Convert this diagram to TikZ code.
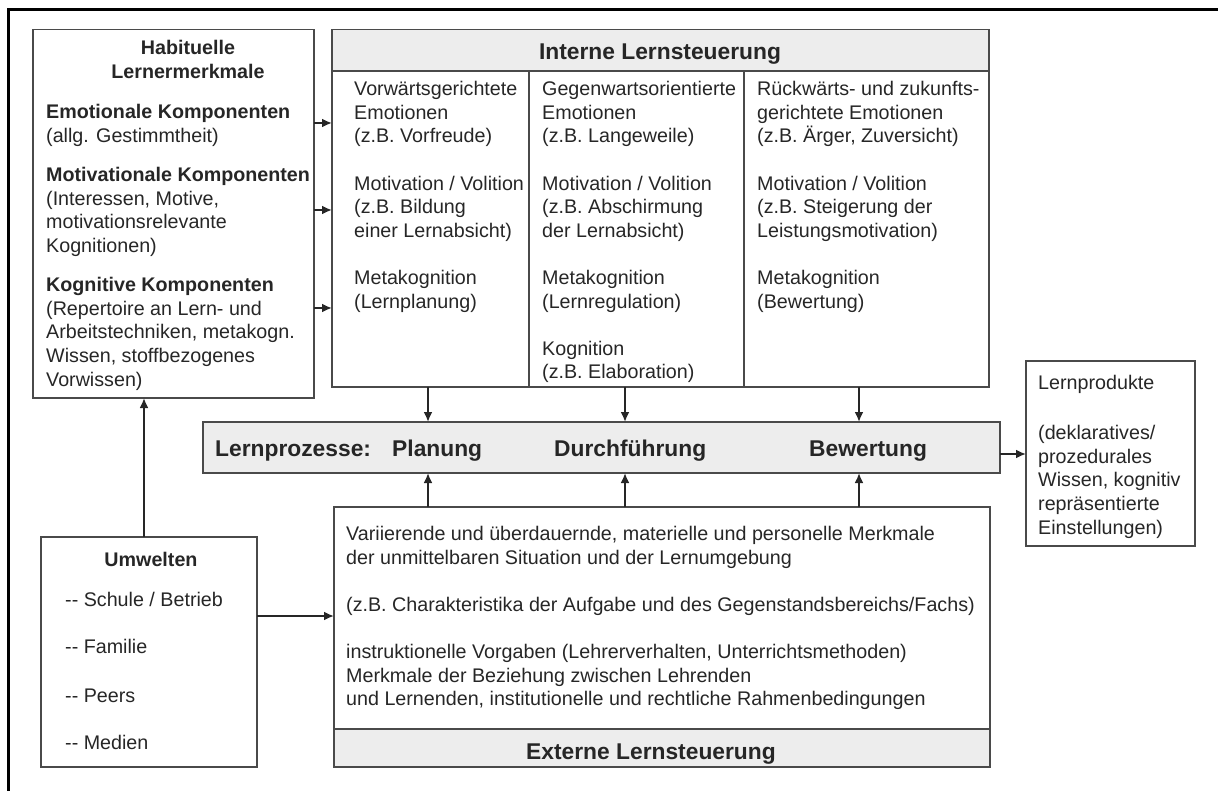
\documentclass[tikz,border=0pt]{standalone}
\usepackage{fontspec}
\setmainfont{Liberation Sans}
\usetikzlibrary{arrows.meta}
\definecolor{edge}{HTML}{4A4A4A}
\definecolor{band}{HTML}{EDEDED}
\definecolor{ink}{HTML}{262626}
\tikzset{
  box/.style={draw=edge, line width=1.3pt, inner sep=0pt, outer sep=0pt, anchor=north west},
  txt/.style={inner sep=0pt, anchor=north west, align=left, text=ink, font=\fontsize{19.7pt}{23.6pt}\selectfont},
  txtb/.style={txt, font=\fontsize{19.7pt}{23.6pt}\selectfont\bfseries},
  hdr/.style={inner sep=0pt, anchor=base west, text=ink, font=\fontsize{22.8pt}{27pt}\selectfont\bfseries},
  arr/.style={draw=ink, line width=2.2pt, -{Latex[length=10pt,width=9pt]}},
}
\begin{document}
\begin{tikzpicture}[x=1pt,y=-1pt]
\useasboundingbox (0,0) rectangle (1218,791);
% outer frame (only top and left visible)
\draw[line width=3pt, black] (8,791) -- (8,10) -- (1218,10);

% boxes
\node[box, minimum width=281pt, minimum height=368.5pt] (hab) at (33,29.5) {};
\node[box, fill=band, minimum width=657pt, minimum height=41.5pt] (inthead) at (332,29.5) {};
\node[box, minimum width=657pt, minimum height=357.5pt] (intern) at (332,29.5) {};
\draw[draw=edge, line width=1.3pt] (inthead.south -| 529,0) -- (intern.south -| 529,0);
\draw[draw=edge, line width=1.3pt] (inthead.south -| 744,0) -- (intern.south -| 744,0);
\node[box, fill=band, minimum width=797pt, minimum height=51pt] (bar) at (203,422) {};
\node[box, minimum width=656pt, minimum height=260pt] (ext) at (334,507) {};
\node[box, fill=band, minimum width=656pt, minimum height=38pt] (extfoot) at (334,729) {};
\node[box, minimum width=216pt, minimum height=230pt] (umw) at (41,537) {};
\node[box, minimum width=169pt, minimum height=185pt] (prod) at (1026,361) {};

% Habituelle Lernermerkmale
\node[txtb, anchor=north, align=center] (habtitle) at (188,38) {\strut Habituelle\\Lernermerkmale};
\node[txt] (hab1) at (46,102) {\strut\textbf{Emotionale Komponenten}\\(allg. Gestimmtheit)};
\node[txt] (hab2) at (46,165) {\strut\textbf{Motivationale Komponenten}\\(Interessen, Motive,\\motivationsrelevante\\Kognitionen)};
\node[txt] (hab3) at (46,275) {\strut\textbf{Kognitive Komponenten}\\(Repertoire an Lern- und\\Arbeitstechniken, metakogn.\\Wissen, stoffbezogenes\\Vorwissen)};

% Interne Lernsteuerung
\node[hdr, anchor=base] (inttitle) at (660,60) {Interne Lernsteuerung};
\node[txt] (c1) at (354,79) {\strut Vorwärtsgerichtete\\Emotionen\\(z.B. Vorfreude)\\[23.6pt]Motivation / Volition\\(z.B. Bildung\\einer Lernabsicht)\\[23.6pt]Metakognition\\(Lernplanung)};
\node[txt] (c2) at (542,79) {\strut Gegenwartsorientierte\\Emotionen\\(z.B. Langeweile)\\[23.6pt]Motivation / Volition\\(z.B. Abschirmung\\der Lernabsicht)\\[23.6pt]Metakognition\\(Lernregulation)\\[23.6pt]Kognition\\(z.B. Elaboration)};
\node[txt] (c3) at (757,79) {\strut Rückwärts- und zukunfts-\\gerichtete Emotionen\\(z.B. Ärger, Zuversicht)\\[23.6pt]Motivation / Volition\\(z.B. Steigerung der\\Leistungsmotivation)\\[23.6pt]Metakognition\\(Bewertung)};

% Lernprozesse bar
\node[hdr] (lp) at (215,456) {Lernprozesse:};
\node[hdr] (lp1) at (392,456) {Planung};
\node[hdr] (lp2) at (554,456) {Durchführung};
\node[hdr] (lp3) at (809,456) {Bewertung};

% Externe Lernsteuerung
\node[txt] (exttxt) at (346,524) {\strut Variierende und überdauernde, materielle und personelle Merkmale\\der unmittelbaren Situation und der Lernumgebung\\[23.6pt](z.B. Charakteristika der Aufgabe und des Gegenstandsbereichs/Fachs)\\[23.6pt]instruktionelle Vorgaben (Lehrerverhalten, Unterrichtsmethoden)\\Merkmale der Beziehung zwischen Lehrenden\\und Lernenden, institutionelle und rechtliche Rahmenbedingungen};
\node[hdr, anchor=base] (exttitle) at (651,759) {Externe Lernsteuerung};

% Umwelten
\node[txtb, anchor=base] (umwt) at (151,566.5) {Umwelten};
\node[txt, anchor=base west] (u1) at (65,606.5) {-{}- Schule / Betrieb};
\node[txt, anchor=base west] (u2) at (65,653.5) {-{}- Familie};
\node[txt, anchor=base west] (u3) at (65,702) {-{}- Peers};
\node[txt, anchor=base west] (u4) at (65,749.5) {-{}- Medien};

% Lernprodukte
\node[txt, anchor=base west] (prodt) at (1038,389) {Lernprodukte};
\node[txt] (prodb) at (1038,423) {\strut(deklaratives/\\prozedurales\\Wissen, kognitiv\\repräsentierte\\Einstellungen)};

% connectors
\draw[arr] (hab.east |- 0,123) -- (intern.west |- 0,123);
\draw[arr] (hab.east |- 0,210) -- (intern.west |- 0,210);
\draw[arr] (hab.east |- 0,308) -- (intern.west |- 0,308);
\draw[arr] (intern.south -| 428,0) -- (bar.north -| 428,0);
\draw[arr] (intern.south -| 625,0) -- (bar.north -| 625,0);
\draw[arr] (intern.south -| 859,0) -- (bar.north -| 859,0);
\draw[arr] (ext.north -| 428,0) -- (bar.south -| 428,0);
\draw[arr] (ext.north -| 625,0) -- (bar.south -| 625,0);
\draw[arr] (ext.north -| 859,0) -- (bar.south -| 859,0);
\draw[arr] (bar.east |- 0,454) -- (prod.west |- 0,454);
\draw[arr] (umw.east |- 0,616) -- (ext.west |- 0,616);
\draw[arr] (umw.north -| 144,0) -- (hab.south -| 144,0);
\end{tikzpicture}
\end{document}
